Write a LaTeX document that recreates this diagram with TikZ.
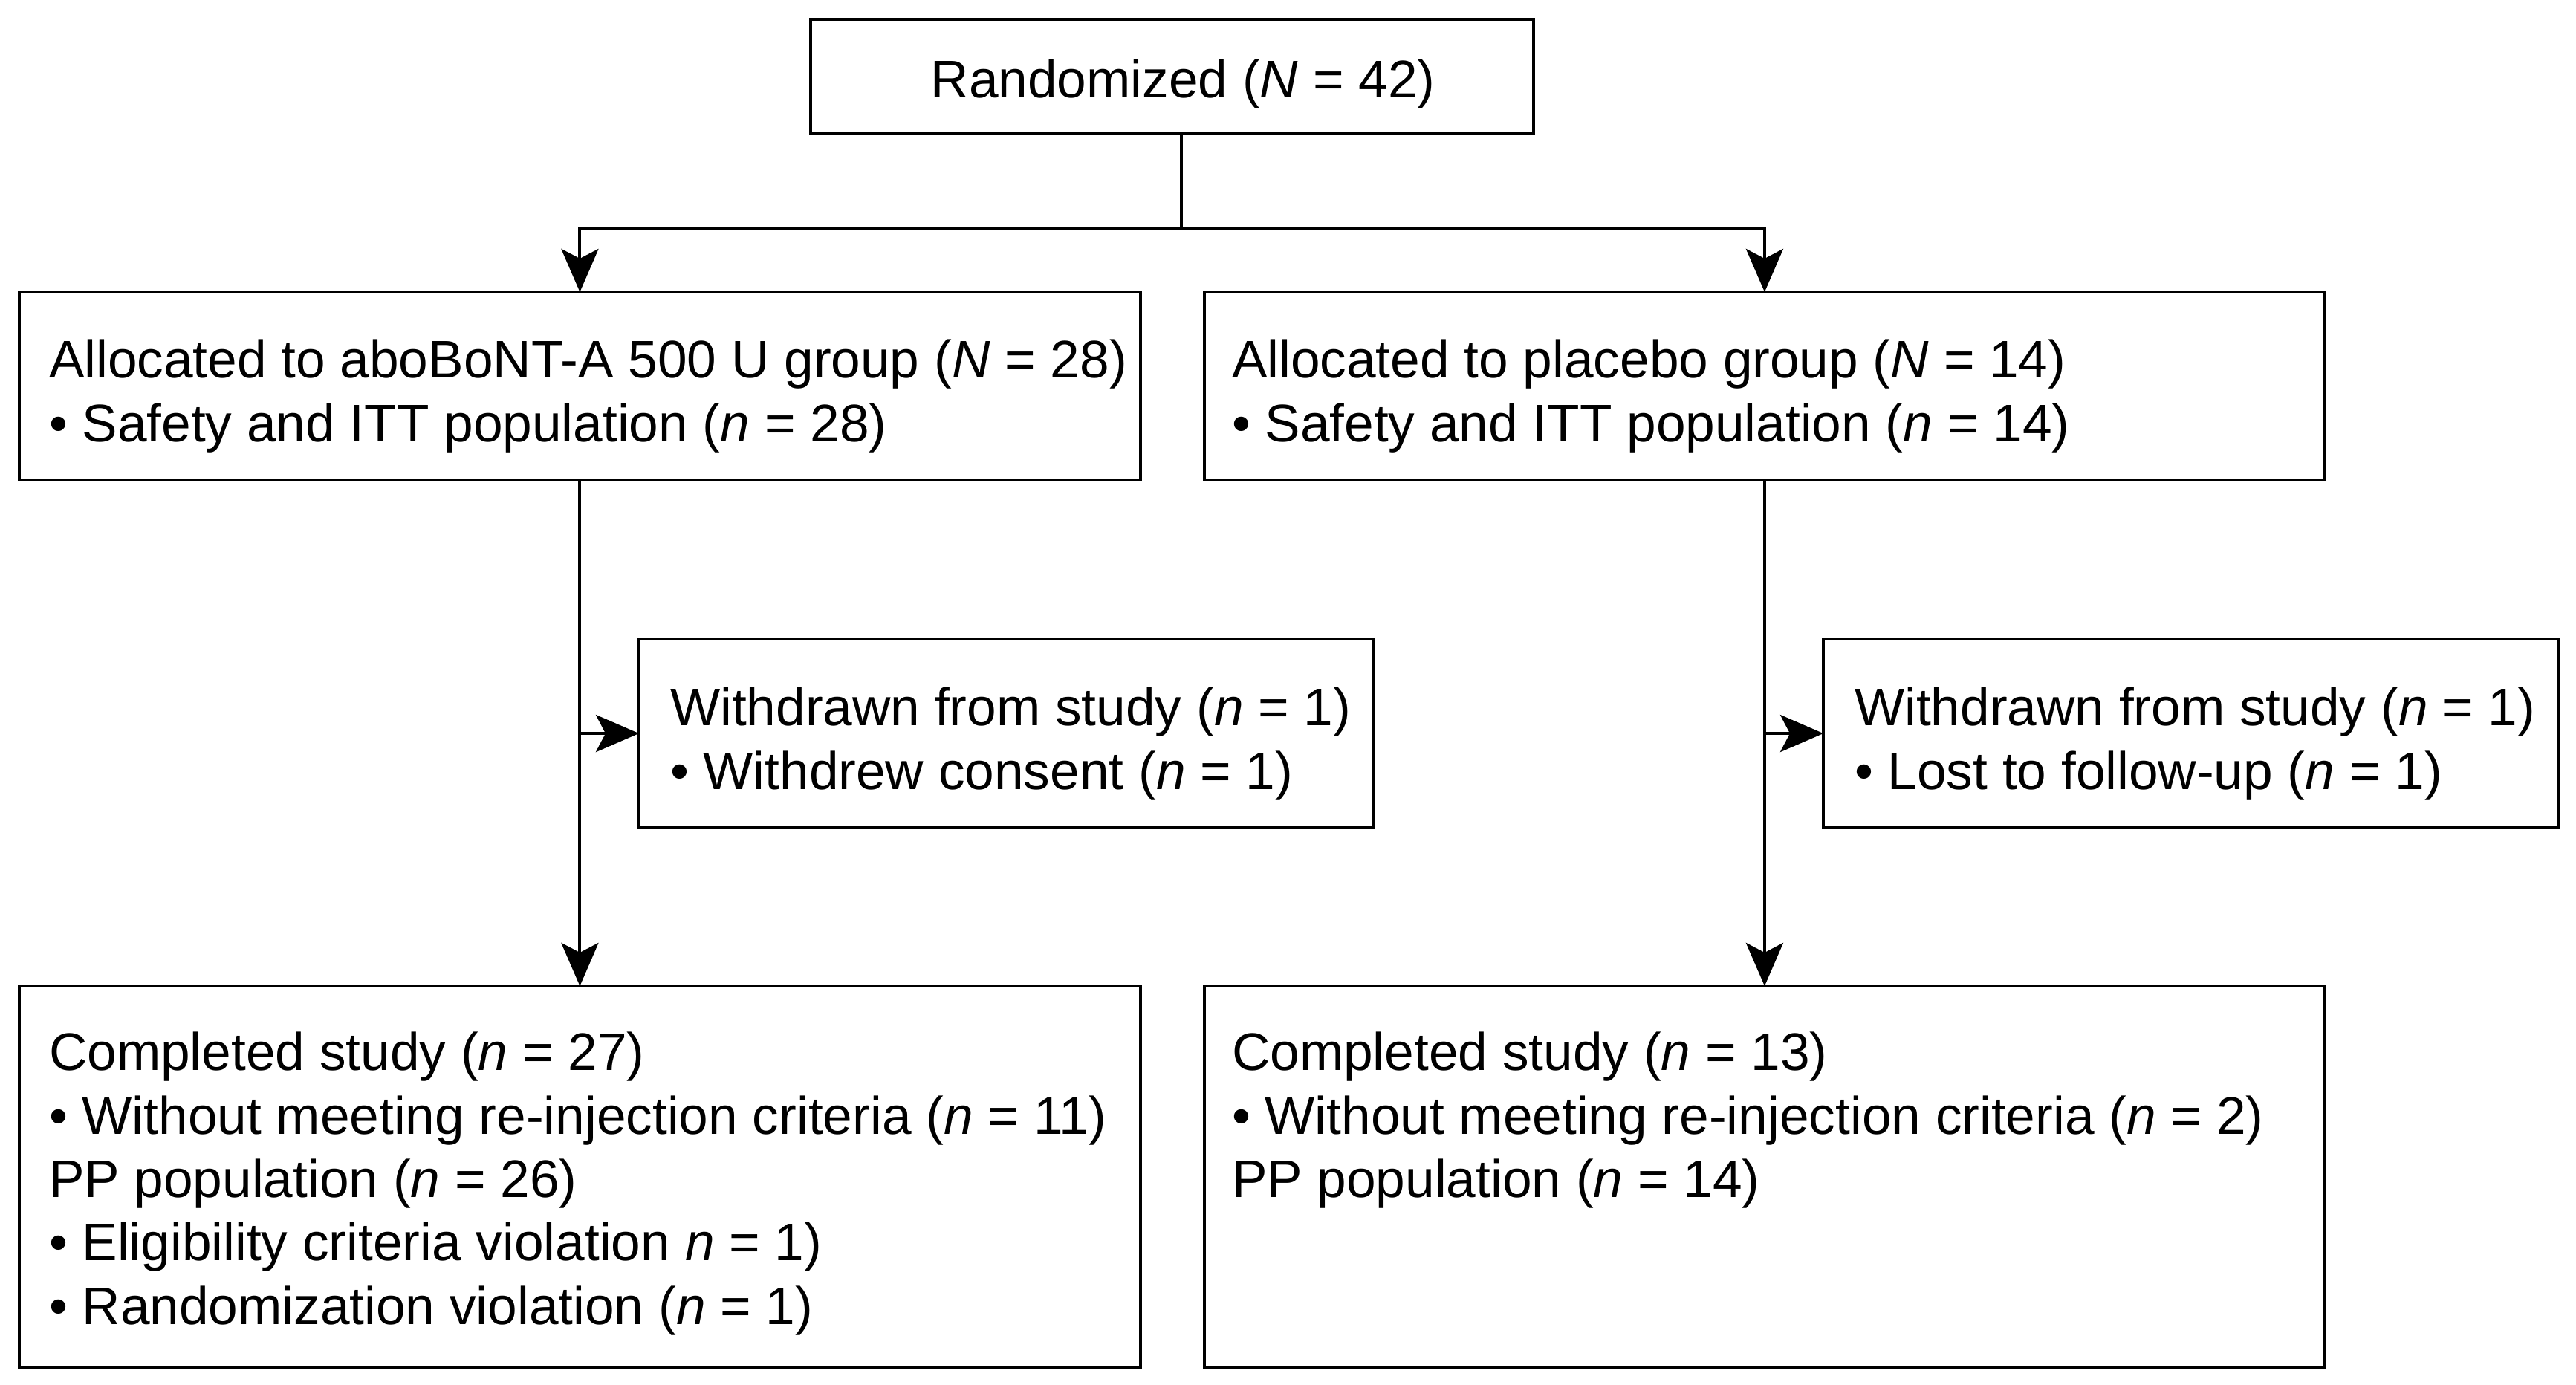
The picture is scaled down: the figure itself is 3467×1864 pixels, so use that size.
\documentclass[tikz,border=0pt]{standalone}
\usepackage{fontspec}
\setmainfont{Liberation Sans}
\usetikzlibrary{arrows.meta}
\begin{document}
\begin{tikzpicture}[x=0.01cm,y=-0.01cm,
  box/.style={draw, line width=0.04cm, inner sep=0pt, outer sep=0pt, rectangle, anchor=north west},
  txt/.style={inner sep=0pt, outer sep=0pt, align=left, anchor=north west, font=\fontsize{20.25pt}{24.3pt}\selectfont},
  conn/.style={line width=0.04cm},
  arr/.style={conn, -{Stealth[length=0.58cm, width=0.5cm, inset=0.13cm]}}]
\useasboundingbox (0,0) rectangle (3467,1864);

% boxes
\node[box, minimum width=9.72cm, minimum height=1.54cm] (rand) at (1091,26) {};
\node[box, minimum width=15.08cm, minimum height=2.53cm] (alloc1) at (26,393) {};
\node[box, minimum width=15.07cm, minimum height=2.53cm] (alloc2) at (1621,393) {};
\node[box, minimum width=9.88cm, minimum height=2.54cm] (wd1) at (860,860) {};
\node[box, minimum width=9.88cm, minimum height=2.54cm] (wd2) at (2454,860) {};
\node[box, minimum width=15.08cm, minimum height=5.13cm] (comp1) at (26,1327) {};
\node[box, minimum width=15.07cm, minimum height=5.13cm] (comp2) at (1621,1327) {};

% texts
\node[txt, anchor=base] (trand) at (1592,132) {Randomized (\textit{N} = 42)};
\node[txt] (talloc1) at (66,457) {Allocated to aboBoNT-A 500 U group (\textit{N} = 28)\\• Safety and ITT population (\textit{n} = 28)};
\node[txt] (talloc2) at (1658,457) {Allocated to placebo group (\textit{N} = 14)\\• Safety and ITT population (\textit{n} = 14)};
\node[txt] (twd1) at (902,925) {Withdrawn from study (\textit{n} = 1)\\• Withdrew consent (\textit{n} = 1)};
\node[txt] (twd2) at (2496,925) {Withdrawn from study (\textit{n} = 1)\\• Lost to follow-up (\textit{n} = 1)};
\node[txt] (tcomp1) at (66,1389) {Completed study (\textit{n} = 27)\\• Without meeting re-injection criteria (\textit{n} = 11)\\PP population (\textit{n} = 26)\\• Eligibility criteria violation \textit{n} = 1)\\• Randomization violation (\textit{n} = 1)};
\node[txt] (tcomp2) at (1658,1389) {Completed study (\textit{n} = 13)\\• Without meeting re-injection criteria (\textit{n} = 2)\\PP population (\textit{n} = 14)};

% connectors
\coordinate (fork) at (1590,308);
\draw[conn] (rand.south -| fork) -- (fork);
\draw[arr] (fork) -| (alloc1.north);
\draw[arr] (fork) -| (alloc2.north);
\draw[arr] (alloc1.south) -- (comp1.north);
\draw[arr] (alloc2.south) -- (comp2.north);
\draw[arr] (alloc1.south |- wd1.west) -- (wd1.west);
\draw[arr] (alloc2.south |- wd2.west) -- (wd2.west);
\end{tikzpicture}
\end{document}
